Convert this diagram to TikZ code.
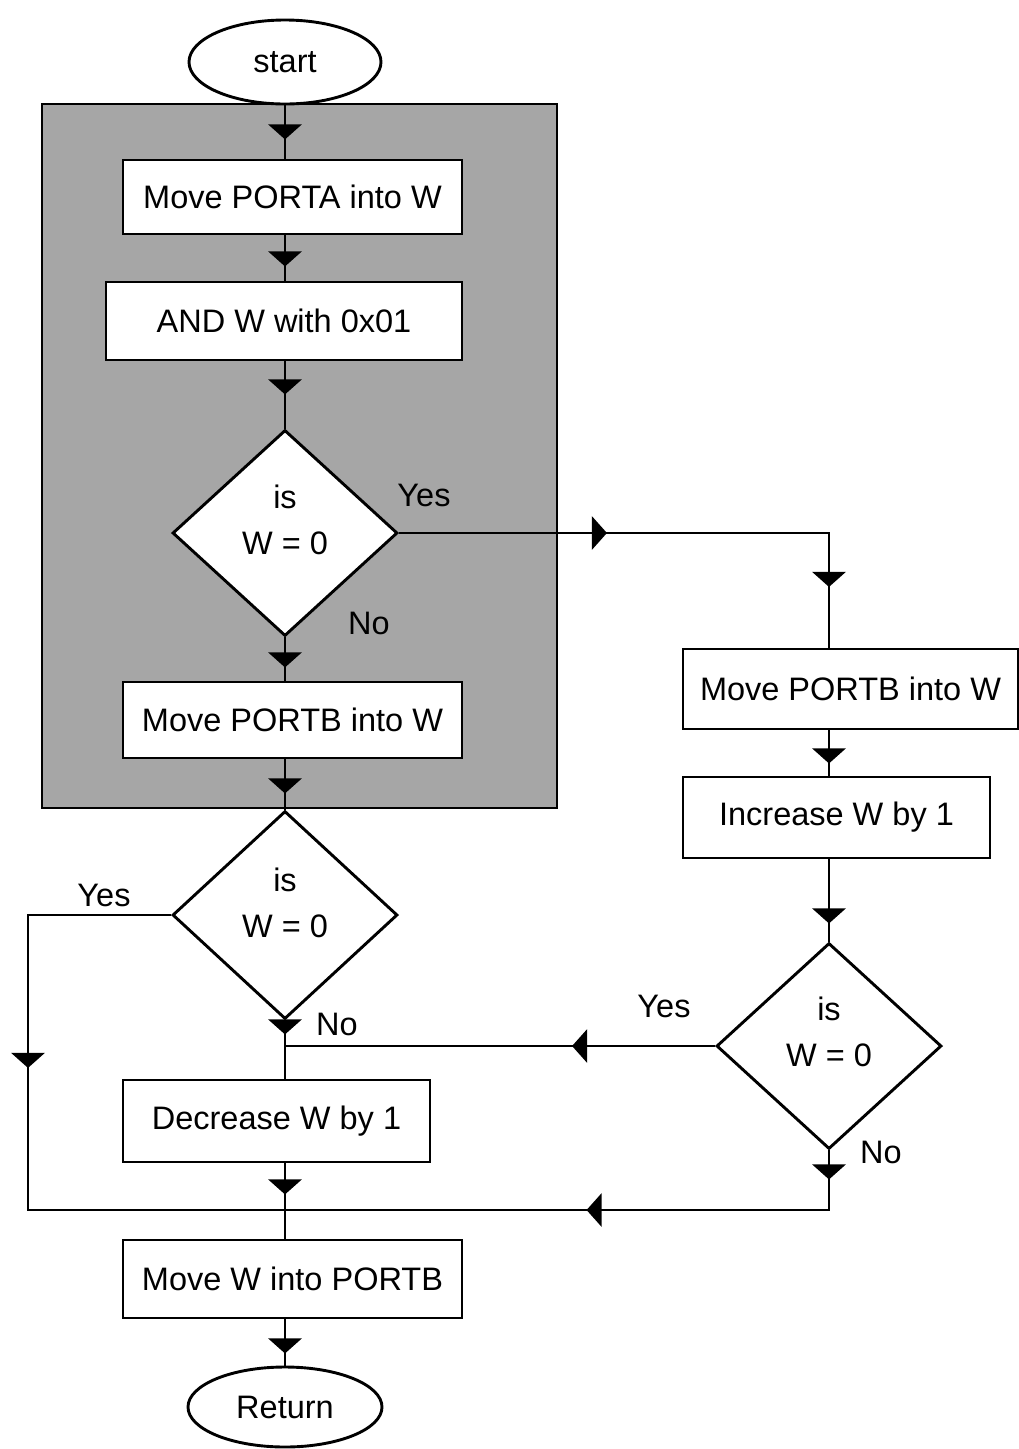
\documentclass[tikz,border=0pt]{standalone}
\usepackage{fontspec}
\setmainfont{Liberation Sans}
\usepackage{xcolor}
\usetikzlibrary{shapes.geometric, arrows.meta, decorations.markings}

\definecolor{shade}{gray}{0.65}

\tikzset{
    box/.style={draw, fill=white, inner sep=0pt, minimum height=78pt},
    term/.style={draw, ellipse, fill=white, inner sep=0pt},
    dia/.style={draw, diamond, fill=white, inner sep=0pt, minimum width=225pt, minimum height=206pt},
    tri/.style={decoration={markings,
        mark=at position #1 with {\arrow{Triangle[length=15pt, width=33pt]}}},
        postaction={decorate}},
    tritwo/.style 2 args={decoration={markings,
        mark=at position #1 with {\arrow{Triangle[length=15pt, width=33pt]}},
        mark=at position #2 with {\arrow{Triangle[length=15pt, width=33pt]}}},
        postaction={decorate}}
}

\begin{document}
\begin{tikzpicture}[x=1pt, y=-1pt, line width=2.9pt, font=\fontsize{32.5}{46}\selectfont]
    \useasboundingbox (0,0) rectangle (1018,1449);

    % grey block
    \draw[fill=shade] (42,104) rectangle (557,808);

    \node[term, minimum width=192pt, minimum height=84pt] (st) at (285,62) {start};
    \node[box, minimum width=339pt, minimum height=74pt] (b1) at (292.5,197) {Move PORTA into W};
    \node[box, minimum width=356pt] (b2) at (284,321) {AND W with 0x01};
    \node[dia] (d1) at (285,533) {};
    \node[align=center] (t1) at ([yshift=13pt]d1.center) {is\\W = 0};
    \node[box, minimum width=339pt, minimum height=76pt] (b3) at (292.5,720) {Move PORTB into W};
    \node[dia, minimum height=208pt] (d2) at (285,915) {};
    \node[align=center] (t2) at ([yshift=12pt]d2.center) {is\\W = 0};
    \node[box, minimum width=307pt, minimum height=82pt] (b4) at (276.5,1121) {Decrease W by 1};
    \node[box, minimum width=339pt] (b5) at (292.5,1279) {Move W into PORTB};
    \node[term, minimum width=194pt, minimum height=80pt] (rt) at (285,1407) {Return};

    \node[box, minimum width=335pt, minimum height=80pt] (b6) at (850.5,689) {Move PORTB into W};
    \node[box, minimum width=307pt, minimum height=81pt] (b7) at (836.5,817.5) {Increase W by 1};
    \node[dia] (d3) at (829,1046) {};
    \node[align=center] (t3) at ([yshift=14pt]d3.center) {is\\W = 0};

    \node (y1) at (424,495) {Yes};
    \node (n1) at (369,623) {No};
    \node (y2) at (104,895) {Yes};
    \node (n2) at (337,1024) {No};
    \node (y3) at (664,1006) {Yes};
    \node (n3) at (881,1152) {No};

    \coordinate (j1) at (st |- d3.west);
    \coordinate (j2) at (285,1210);
    \coordinate (c1) at (28,1210);

    % main column
    \draw[tri=34pt] (st.south) -- (st |- b1.north);
    \draw[tri=31pt] (st |- b1.south) -- (st |- b2.north);
    \draw[tri=33pt] (st |- b2.south) -- (d1.north);
    \draw[tri=30pt] (d1.south) -- (st |- b3.north);
    \draw[tri=34pt] (st |- b3.south) -- (d2.north);
    \draw[tri=14pt] (d2.south) -- (st |- b4.north);
    \draw[tri=31pt] (st |- b4.south) -- (st |- b5.north);
    \draw[tri=34pt] (st |- b5.south) -- (rt.north);

    % right column
    \draw[tritwo={208pt}{484pt}] (d1.east) -| (d3 |- b6.north);
    \draw[tri=33pt] (d3 |- b6.south) -- (d3 |- b7.north);
    \draw[tri=64pt] (d3 |- b7.south) -- (d3.north);
    \draw[tri=143pt] (d3.west) -- (j1);
    \draw[tritwo={29pt}{302pt}] (d3.south) |- (j2);

    % left return
    \draw[tri=296pt] (d2.west) -| (c1) -- (j2);
\end{tikzpicture}
\end{document}
